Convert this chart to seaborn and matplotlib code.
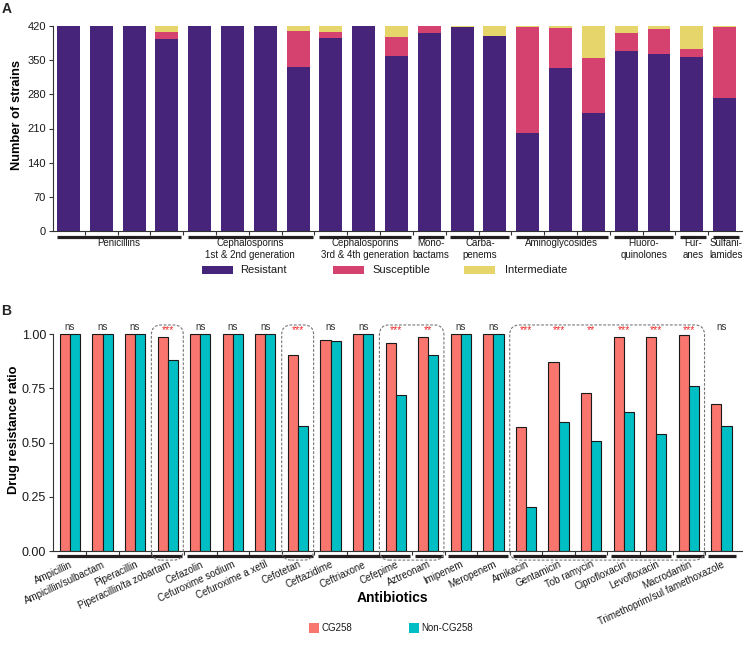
import numpy as np
import pandas as pd
import matplotlib
matplotlib.use("Agg")
import matplotlib.pyplot as plt
import seaborn as sns
from matplotlib import transforms
from matplotlib.patches import Rectangle, FancyBboxPatch

# ---------------- data ----------------
antibiotics = ["Ampicillin", "Ampicillin/sulbactam", "Piperacillin", "Piperacillin/ta zobartam",
               "Cefazolin", "Cefuroxime sodium", "Cefuroxime a xetil", "Cefotetan",
               "Ceftazidime", "Ceftriaxone", "Cefepime", "Aztreonam", "Imipenem", "Meropenem",
               "Amikacin", "Gentamicin", "Tob ramycin", "Ciprofloxacin", "Levofloxacin",
               "Macrodantin", "Trimethoprim/sul famethoxazole"]
resistant = [420, 420, 420, 393, 420, 420, 420, 337, 396, 420, 359, 405, 417, 400,
             200, 333, 241, 369, 362, 357, 272]
susceptible = [0, 0, 0, 15, 0, 0, 0, 73, 11, 0, 39, 15, 1, 0,
               218, 82, 113, 37, 51, 15, 146]
intermediate = [0, 0, 0, 12, 0, 0, 0, 10, 13, 0, 22, 0, 2, 20,
                2, 5, 66, 14, 7, 48, 2]
class_names = ["Penicillins", "Cephalosporins\n1st & 2nd generation",
               "Cephalosporins\n3rd & 4th generation", "Mono-\nbactams", "Carba-\npenems",
               "Aminoglycosides", "Fluoro-\nquinolones", "Fur-\nanes", "Sulfani-\nlamides"]
class_first = [0, 4, 8, 11, 12, 14, 17, 19, 20]
class_last = [3, 7, 10, 11, 13, 16, 18, 19, 20]

cg258 = [1.00, 1.00, 1.00, 0.986, 1.00, 1.00, 1.00, 0.903, 0.972, 1.00, 0.960,
         0.986, 1.00, 1.00, 0.574, 0.874, 0.731, 0.989, 0.986, 0.998, 0.677]
non_cg258 = [1.00, 1.00, 1.00, 0.880, 1.00, 1.00, 1.00, 0.575, 0.968, 1.00, 0.718,
             0.906, 1.00, 1.00, 0.205, 0.597, 0.506, 0.640, 0.538, 0.760, 0.575]
signif = ["ns", "ns", "ns", "***", "ns", "ns", "ns", "***", "ns", "ns", "***",
          "**", "ns", "ns", "***", "***", "**", "***", "***", "***", "ns"]
boxed_first = [3, 7, 10, 14]
boxed_last = [3, 7, 11, 19]

# ---------------- style ----------------
sns.set_theme(style="ticks")
plt.rcParams["font.family"] = ["Liberation Sans", "DejaVu Sans"]
plt.rcParams["axes.edgecolor"] = "#333333"
plt.rcParams["axes.linewidth"] = 0.8

c_res, c_sus, c_int = "#45247A", "#D5426F", "#E6D56B"
c_cg, c_non = "#F8766D", "#00BFC4"
txt = "#1a1a1a"

W, H = 743, 651
fig = plt.figure(figsize=(W / 100, H / 100), dpi=100)


def rect(l, t, r, b):
    return [l / W, 1 - b / H, (r - l) / W, (b - t) / H]


def fx(x):
    return x / W


def fy(y):
    return 1 - y / H


axA = fig.add_axes(rect(53, 26, 742, 231))
axB = fig.add_axes(rect(53, 312.6, 742, 551))

# ---------------- panel A ----------------
dfA = pd.DataFrame({"Antibiotic": antibiotics, "Resistant": resistant,
                    "Susceptible": susceptible, "Intermediate": intermediate})
dfA["upto_sus"] = dfA["Resistant"] + dfA["Susceptible"]
dfA["upto_int"] = dfA["upto_sus"] + dfA["Intermediate"]
for col, c in [("upto_int", c_int), ("upto_sus", c_sus), ("Resistant", c_res)]:
    sns.barplot(data=dfA, x="Antibiotic", y=col, color=c, width=0.7, saturation=1,
                errorbar=None, edgecolor="none", linewidth=0, ax=axA)

axA.set_xlim(-0.47, 20.53)
axA.set_ylim(0, 420)
axA.set_yticks(range(0, 421, 70))
axA.tick_params(axis="y", labelsize=8, length=3, width=0.8, colors="#333333",
                labelcolor=txt, pad=2)
axA.set_xticks(range(len(antibiotics)))
axA.set_xticklabels([])
axA.tick_params(axis="x", which="major", length=0)
axA.set_xticks(np.arange(0.5, 20.5, 1), minor=True)
axA.tick_params(axis="x", which="minor", length=3, width=0.8, color="#333333")
axA.set_xlabel("")
axA.set_ylabel("")
axA.spines["top"].set_visible(False)
axA.spines["right"].set_visible(False)
axA.spines["left"].set_bounds(0, 420)

transA = transforms.blended_transform_factory(axA.transData, axA.transAxes)
offA_line = transA + transforms.ScaledTranslation(0, -6 / 100, fig.dpi_scale_trans)
offA_text = transA + transforms.ScaledTranslation(0, -7.5 / 100, fig.dpi_scale_trans)
for name, i0, i1 in zip(class_names, class_first, class_last):
    axA.plot([i0 - 0.36, i1 + 0.44], [0, 0], color="#231F20", lw=2.3,
             solid_capstyle="butt", transform=offA_line, clip_on=False)
    axA.text((i0 + i1) / 2 + 0.04, 0, name, transform=offA_text, ha="center", va="top",
             fontsize=7, color=txt, linespacing=1.15)

fig.text(fx(17.5), fy(115), "Number of strains", rotation=90, ha="center", va="center",
         fontsize=9.3, fontweight="bold", color="black")

for lbl, c, x0, xt in [("Resistant", c_res, 202, 240), ("Susceptible", c_sus, 333, 372),
                       ("Intermediate", c_int, 464, 505)]:
    fig.add_artist(Rectangle((fx(x0), fy(274)), 31 / W, 8 / H, transform=fig.transFigure,
                             facecolor=c, edgecolor="none"))
    fig.text(fx(xt), fy(270), lbl, ha="left", va="center", fontsize=8, color=txt)

# ---------------- panel B ----------------
dfB = pd.DataFrame({
    "Antibiotic": antibiotics * 2,
    "Group": ["CG258"] * len(antibiotics) + ["Non-CG258"] * len(antibiotics),
    "Ratio": cg258 + non_cg258,
})
sns.barplot(data=dfB, x="Antibiotic", y="Ratio", hue="Group", palette=[c_cg, c_non],
            width=0.62, gap=0, saturation=1, errorbar=None, edgecolor="#1a1a1a",
            linewidth=0.8, legend=False, ax=axB)

axB.set_xlim(-0.52, 20.63)
axB.set_ylim(0, 1.1)
axB.set_yticks([0, 0.25, 0.5, 0.75, 1.0])
axB.set_yticklabels(["0.00", "0.25", "0.50", "0.75", "1.00"])
axB.tick_params(axis="y", labelsize=9, length=3, width=0.8, colors="#333333",
                labelcolor=txt, pad=2)
axB.set_xticks(range(len(antibiotics)))
axB.set_xticklabels(antibiotics, rotation=25, ha="right", rotation_mode="anchor",
                    fontsize=7, color=txt)
axB.tick_params(axis="x", which="major", length=0, pad=6)
axB.set_xticks(np.arange(0.5, 20.5, 1), minor=True)
axB.tick_params(axis="x", which="minor", length=3, width=0.8, color="#333333")
axB.set_xlabel("")
axB.set_ylabel("")
axB.spines["top"].set_visible(False)
axB.spines["right"].set_visible(False)
axB.spines["left"].set_bounds(0, 1)

transB = transforms.blended_transform_factory(axB.transData, axB.transAxes)
offB_line = transB + transforms.ScaledTranslation(0, -4.5 / 100, fig.dpi_scale_trans)
for i0, i1 in zip(class_first, class_last):
    axB.plot([i0 - 0.40, i1 + 0.45], [0, 0], color="#231F20", lw=2.3,
             solid_capstyle="butt", transform=offB_line, clip_on=False)

for i, s in enumerate(signif):
    if s == "ns":
        axB.text(i, 1.012, s, ha="center", va="bottom", fontsize=7, color="#333333")
    else:
        axB.text(i, 0.995, s, ha="center", va="bottom", fontsize=7.5, color="#EE2A2A")

aspect = (1.1 / 238.4) / (21.15 / 689)
for b0, b1 in zip(boxed_first, boxed_last):
    box = FancyBboxPatch((b0 - 0.5, -0.042), (b1 + 0.48) - (b0 - 0.5), 1.085,
                         boxstyle="round,pad=0,rounding_size=0.3", mutation_aspect=aspect,
                         facecolor="none", edgecolor="#777777", lw=0.8,
                         linestyle=(0, (2.5, 1.5)), clip_on=False, zorder=5)
    axB.add_patch(box)

fig.text(fx(14), fy(430), "Drug resistance ratio", rotation=90, ha="center", va="center",
         fontsize=9.3, fontweight="bold", color="black")
fig.text(fx(392), fy(598), "Antibiotics", ha="center", va="center",
         fontsize=10, fontweight="bold", color="black")

for lbl, c, x0, xt in [("CG258", c_cg, 309, 321), ("Non-CG258", c_non, 409, 421)]:
    fig.add_artist(Rectangle((fx(x0), fy(633)), 10 / W, 10 / H, transform=fig.transFigure,
                             facecolor=c, edgecolor="none"))
    fig.text(fx(xt), fy(628), lbl, ha="left", va="center", fontsize=7, color=txt)

fig.text(fx(2), fy(2), "A", ha="left", va="top", fontsize=10, fontweight="bold")
fig.text(fx(1), fy(304), "B", ha="left", va="top", fontsize=10, fontweight="bold")

fig.savefig("out.png", dpi=100)
